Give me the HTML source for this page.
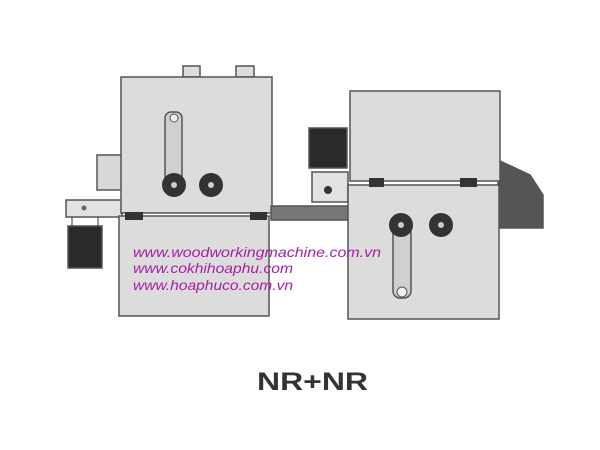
<!DOCTYPE html>
<html><head><meta charset="utf-8"><style>
html,body{margin:0;padding:0;background:#fff;width:600px;height:450px;overflow:hidden}
svg{display:block}
.u{font-family:"Liberation Sans",sans-serif;font-style:italic;font-size:14px;fill:#a51fa6}
</style></head><body>
<svg width="600" height="450" viewBox="0 0 600 450">
<rect width="600" height="450" fill="#fff"/>
<g stroke="#555" stroke-width="1.5">
<rect x="183" y="66" width="17" height="11" fill="#ddd"/>
<rect x="236" y="66" width="18" height="11" fill="#ddd"/>
<rect x="97" y="155" width="25" height="35" fill="#d8d8d8"/>
<rect x="66" y="200" width="56" height="17" fill="#e2e2e2"/>
<rect x="68" y="226" width="34" height="42" fill="#2a2a2a"/>
<rect x="121" y="77" width="151" height="136" fill="#dcdcdc"/>
<rect x="119" y="216" width="150" height="100" fill="#dcdcdc"/>
<rect x="165" y="112" width="17" height="70" rx="6" fill="#d0d0d0"/>
<rect x="271" y="206" width="80" height="14" fill="#777"/>
<polygon points="498,160 530,175 543,195 543,228 498,228" fill="#555"/>
<rect x="309" y="128" width="38" height="40" fill="#2a2a2a"/>
<rect x="312" y="172" width="36" height="30" fill="#e2e2e2"/>
<rect x="350" y="91" width="150" height="90" fill="#dcdcdc"/>
<rect x="348" y="185" width="151" height="134" fill="#dcdcdc"/>
<rect x="393" y="226" width="18" height="72" rx="7" fill="#d0d0d0"/>
</g>
<rect x="125" y="212" width="18" height="8" fill="#333"/>
<rect x="250" y="212" width="17" height="8" fill="#333"/>
<rect x="369" y="178" width="15" height="9" fill="#333"/>
<rect x="460" y="178" width="17" height="9" fill="#333"/>
<line x1="72" y1="217" x2="72" y2="226" stroke="#333"/><line x1="98" y1="217" x2="98" y2="226" stroke="#333"/>
<circle cx="84" cy="208" r="2.5" fill="#666"/>
<circle cx="328" cy="190" r="4" fill="#333"/>
<circle cx="174" cy="118" r="4" fill="#eee" stroke="#555"/>
<circle cx="402" cy="292" r="5" fill="#eee" stroke="#555"/>
<g fill="#333">
<circle cx="174" cy="185" r="12"/><circle cx="211" cy="185" r="12"/>
<circle cx="401" cy="225" r="12"/><circle cx="441" cy="225" r="12"/>
</g>
<g fill="#ccc">
<circle cx="174" cy="185" r="3"/><circle cx="211" cy="185" r="3"/>
<circle cx="401" cy="225" r="3"/><circle cx="441" cy="225" r="3"/>
</g>
<text class="u" x="133" y="257" textLength="248" lengthAdjust="spacingAndGlyphs">www.woodworkingmachine.com.vn</text>
<text class="u" x="133" y="273" textLength="160" lengthAdjust="spacingAndGlyphs">www.cokhihoaphu.com</text>
<text class="u" x="133" y="290" textLength="160" lengthAdjust="spacingAndGlyphs">www.hoaphuco.com.vn</text>
<text x="257" y="390" font-family="Liberation Sans,sans-serif" font-weight="bold" font-size="25" fill="#333" textLength="111" lengthAdjust="spacingAndGlyphs">NR+NR</text>
</svg>
</body></html>
